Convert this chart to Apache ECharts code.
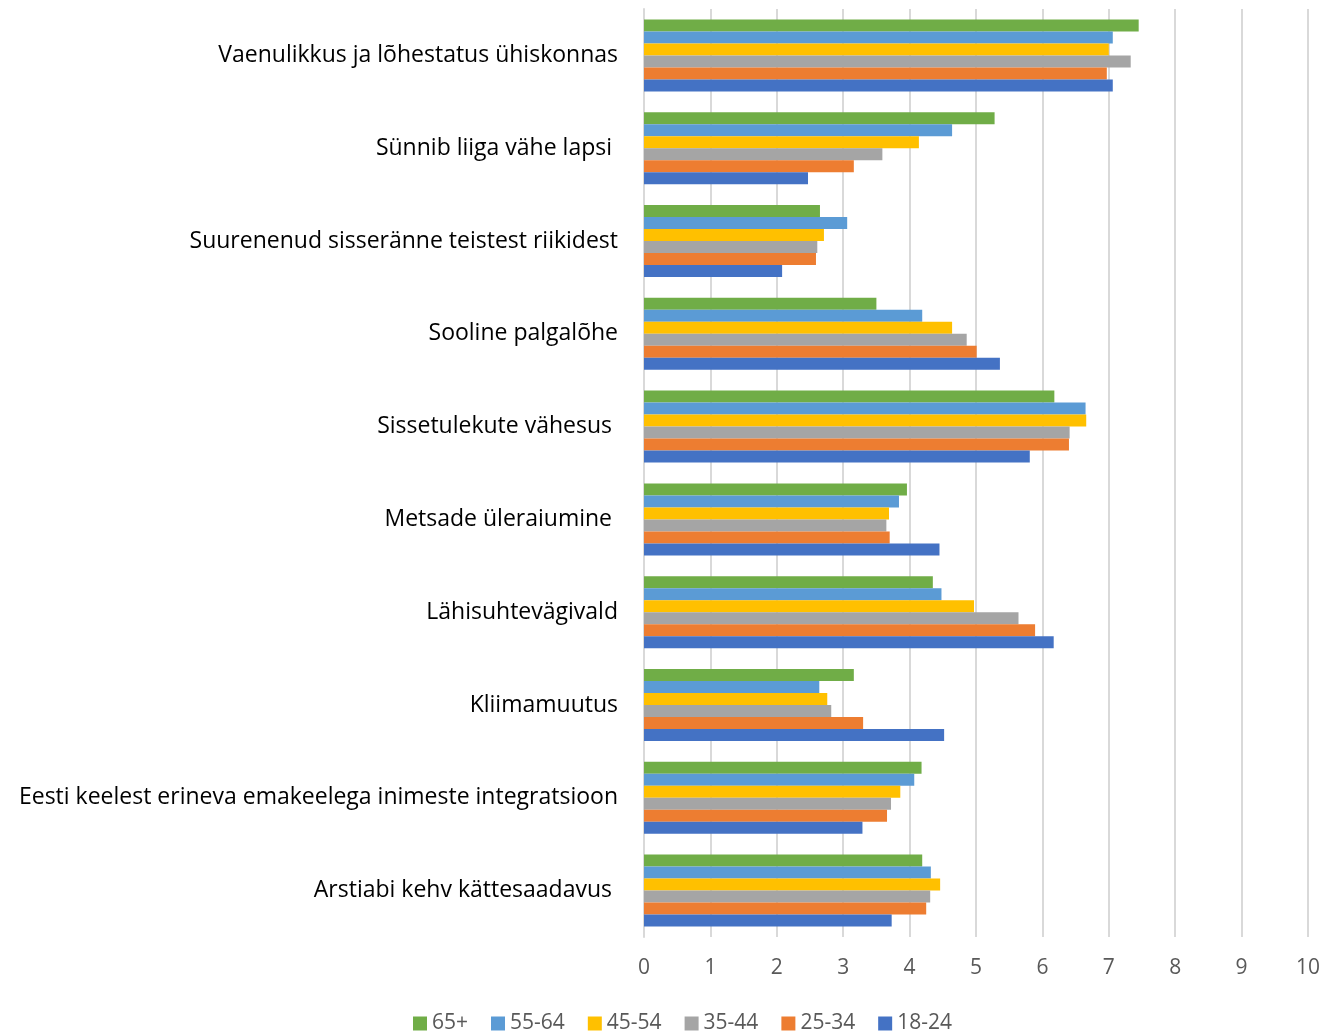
<!DOCTYPE html>
<html>
<head>
<meta charset="utf-8">
<script src="https://cdn.jsdelivr.net/npm/echarts@6/dist/echarts.min.js"></script>
<style>
html,body{margin:0;padding:0;background:#fff;}
#chart{width:1324px;height:1033px;}
</style>
</head>
<body>
<div id="chart"></div>
<script>
const categories = [
  "Vaenulikkus ja lõhestatus ühiskonnas",
  "Sünnib liiga vähe lapsi ",
  "Suurenenud sisseränne teistest riikidest",
  "Sooline palgalõhe",
  "Sissetulekute vähesus ",
  "Metsade üleraiumine ",
  "Lähisuhtevägivald",
  "Kliimamuutus",
  "Eesti keelest erineva emakeelega inimeste integratsioon",
  "Arstiabi kehv kättesaadavus "
];
const seriesNames = ["65+", "55-64", "45-54", "35-44", "25-34", "18-24"];
const age65plus = [7.45, 5.28, 2.65, 3.50, 6.18, 3.96, 4.35, 3.16, 4.18, 4.19];
const age55_64  = [7.06, 4.64, 3.06, 4.19, 6.65, 3.84, 4.48, 2.64, 4.07, 4.32];
const age45_54  = [7.00, 4.14, 2.71, 4.64, 6.66, 3.69, 4.97, 2.76, 3.86, 4.46];
const age35_44  = [7.33, 3.59, 2.61, 4.86, 6.41, 3.65, 5.64, 2.82, 3.72, 4.31];
const age25_34  = [6.97, 3.16, 2.59, 5.01, 6.40, 3.70, 5.89, 3.30, 3.66, 4.25];
const age18_24  = [7.06, 2.47, 2.08, 5.36, 5.81, 4.45, 6.17, 4.52, 3.29, 3.73];
const xTicks = [0,1,2,3,4,5,6,7,8,9,10];

const seriesData = [age65plus, age55_64, age45_54, age35_44, age25_34, age18_24];
const colors = ["#70AD47", "#5B9BD5", "#FFC000", "#A5A5A5", "#ED7D31", "#4472C4"];

const chart = echarts.init(document.getElementById('chart'));
chart.setOption({
  animation: false,
  color: colors,
  grid: { left: 644, right: 16, top: 9, bottom: 96, containLabel: false },
  legend: {
    top: 1008,
    left: 408,
    itemWidth: 14,
    itemHeight: 14,
    itemGap: 23,
    icon: 'rect',
    textStyle: { fontFamily: 'Open Sans', fontSize: 21, color: '#595959' },
    data: seriesNames
  },
  xAxis: {
    type: 'value',
    min: xTicks[0],
    max: xTicks[xTicks.length - 1],
    interval: 1,
    axisLine: { show: false },
    axisTick: { show: false },
    axisLabel: { fontFamily: 'Open Sans', fontSize: 21, color: '#595959', margin: 21 },
    splitLine: { show: true, lineStyle: { color: '#D9D9D9', width: 2 } }
  },
  yAxis: {
    type: 'category',
    inverse: true,
    data: categories,
    axisLine: { show: true, lineStyle: { color: '#D9D9D9', width: 2 } },
    axisTick: { show: false },
    axisLabel: { fontFamily: 'Open Sans', fontSize: 23, color: '#000', margin: 26 }
  },
  series: seriesNames.map((n, i) => ({
    name: n,
    type: 'bar',
    data: seriesData[i],
    barWidth: 12,
    barGap: '0%',
    itemStyle: { color: colors[i] }
  }))
});
</script>
</body>
</html>
